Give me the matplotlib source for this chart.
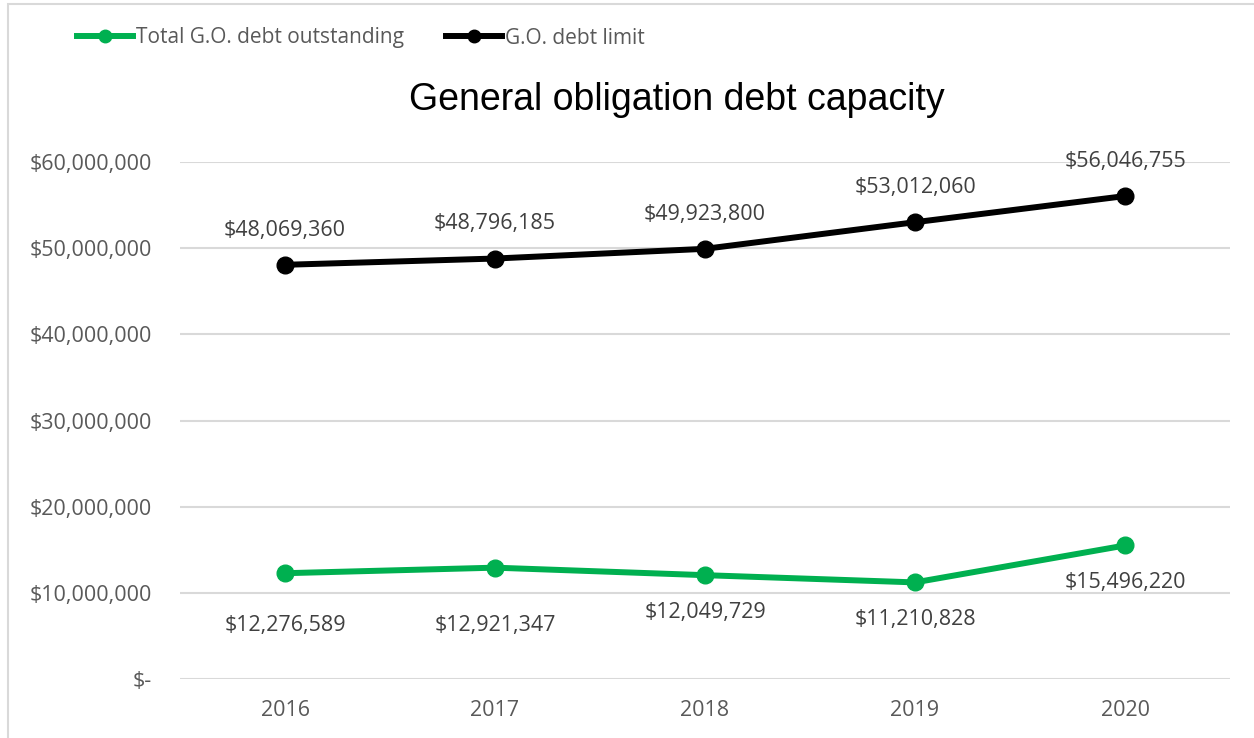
import matplotlib.pyplot as plt
from matplotlib.patches import Rectangle
from matplotlib.ticker import FuncFormatter

years = ["2016", "2017", "2018", "2019", "2020"]
debt_outstanding = [12276589, 12921347, 12049729, 11210828, 15496220]
debt_limit = [48069360, 48796185, 49923800, 53012060, 56046755]

GREEN = "#00B050"
GRAY_TXT = "#595959"
GRID = "#d9d9d9"
FONT = "Open Sans"


def money(v, pos=None):
    if v == 0:
        return "$-"
    return f"${v:,.0f}"


fig = plt.figure(figsize=(12.54, 7.38), dpi=100)
ax = fig.add_axes([180 / 1254, 59 / 738, 1050 / 1254, 517 / 738])

x = range(len(years))
ax.plot(x, debt_outstanding, color=GREEN, lw=4.3, marker="o", ms=12,
        label="Total G.O. debt outstanding", zorder=3, clip_on=False)
ax.plot(x, debt_limit, color="black", lw=4.3, marker="o", ms=12,
        label="G.O. debt limit", zorder=3, clip_on=False)

# data labels
green_off = [-38, -42, -27, -27, -27]
for i, v in enumerate(debt_outstanding):
    ax.annotate(money(v), (i, v), xytext=(0, green_off[i]), textcoords="offset points",
                ha="center", va="center", fontsize=15.5, color="#404040", family=FONT)
for i, v in enumerate(debt_limit):
    ax.annotate(money(v), (i, v), xytext=(0, 25), textcoords="offset points",
                ha="center", va="center", fontsize=15.5, color="#404040", family=FONT)

ax.set_xlim(-0.5, len(years) - 0.5)
ax.set_ylim(0, 60000000)
ax.set_yticks(range(0, 60000001, 10000000))
ax.yaxis.set_major_formatter(FuncFormatter(money))
ax.set_xticks(list(x))
ax.set_xticklabels(years)
ax.grid(axis="y", color=GRID, lw=1.5)
ax.set_axisbelow(True)
for s in ax.spines.values():
    s.set_visible(False)
ax.tick_params(length=0, labelsize=15.5, colors=GRAY_TXT)
ax.tick_params(axis="x", pad=15)
ax.tick_params(axis="y", pad=20)
for lab in ax.get_xticklabels() + ax.get_yticklabels():
    lab.set_family(FONT)
    lab.set_color(GRAY_TXT)

fig.text(677 / 1254, 1 - 100 / 738, "General obligation debt capacity", fontsize=27,
         family="Liberation Sans", ha="center", va="center")

leg = fig.legend(loc="center left", bbox_to_anchor=(58 / 1254, 1 - 38 / 738), ncol=2,
                 frameon=False, prop={"family": FONT, "size": 15},
                 handlelength=2.7, handletextpad=0.15, columnspacing=2.0,
                 markerscale=0.75)
for t in leg.get_texts():
    t.set_color(GRAY_TXT)

# outer chart border (cut off at right and bottom)
fig.patches.append(Rectangle((8 / 1254, -0.5), 2, 0.5 + 1 - 4 / 738,
                             transform=fig.transFigure, fill=False,
                             edgecolor=GRID, lw=1.5))

fig.savefig("out.png", dpi=100)
